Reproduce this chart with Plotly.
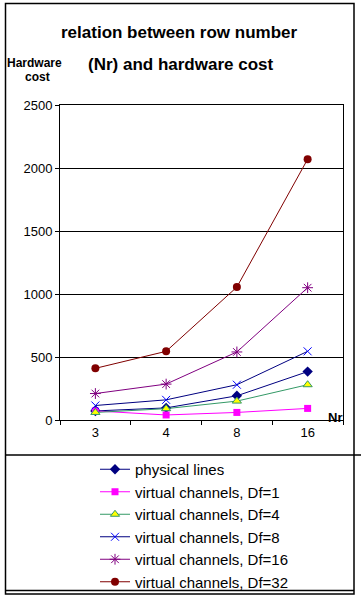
import plotly.graph_objects as go

categories = ["3", "4", "8", "16"]
physical_lines = [72, 96, 192, 384]
vc_df1 = [72, 40, 60, 92]
vc_df4 = [60, 90, 150, 280]
vc_df8 = [115, 160, 280, 545]
vc_df16 = [210, 285, 540, 1050]
vc_df32 = [410, 545, 1055, 2070]
y_ticks = [0, 500, 1000, 1500, 2000, 2500]

W, H = 363, 598
L, R, T, B = 60, 343, 105, 420


def px(x):
    return (x - L) / (R - L)


def py(y):
    return (B - y) / (B - T)


FONT = "Liberation Sans, Arial, sans-serif"

series = [
    ("physical lines", physical_lines, "#000080", dict(symbol="diamond", size=8, color="#000080")),
    ("virtual channels, Df=1", vc_df1, "#FF00FF", dict(symbol="square", size=7, color="#FF00FF")),
    ("virtual channels, Df=4", vc_df4, "#339966", dict(symbol="triangle-up", size=8, color="#FFFF00",
                                                        line=dict(color="#339966", width=1))),
    ("virtual channels, Df=8", vc_df8, "#000080", dict(symbol="x-thin-open", size=8, color="#0000FF",
                                                        line=dict(color="#0000FF", width=1))),
    ("virtual channels, Df=16", vc_df16, "#800080", dict(symbol="asterisk-open", size=9, color="#800080",
                                                          line=dict(color="#800080", width=1))),
    ("virtual channels, Df=32", vc_df32, "#800000", dict(symbol="circle", size=8, color="#800000")),
]

fig = go.Figure()
for name, vals, lc, mk in series:
    fig.add_trace(go.Scatter(x=categories, y=vals, name=name, mode="lines+markers",
                             line=dict(color=lc, width=1), marker=mk))

shapes = [
    dict(type="rect", xref="paper", yref="paper", x0=px(5.5), x1=px(354), y0=py(594), y1=py(3.5),
         line=dict(color="black", width=1.5)),
    dict(type="line", xref="paper", yref="paper", x0=px(5.5), x1=px(361), y0=py(455), y1=py(455),
         line=dict(color="black", width=1.5)),
    dict(type="line", xref="paper", yref="paper", x0=px(5.5), x1=px(354), y0=py(590.5), y1=py(590.5),
         line=dict(color="black", width=1.5)),
]

annotations = [
    dict(text="<b>relation between row number</b>", x=px(179), y=py(33), xref="paper", yref="paper",
         showarrow=False, font=dict(family=FONT, size=17, color="black"), xanchor="center", yanchor="middle"),
    dict(text="<b>(Nr) and hardware cost</b>", x=px(180), y=py(64), xref="paper", yref="paper",
         showarrow=False, font=dict(family=FONT, size=17, color="black"), xanchor="center", yanchor="middle"),
    dict(text="<b>Hardware</b>", x=px(5), y=py(63), xref="paper", yref="paper", showarrow=False,
         font=dict(family=FONT, size=12, color="black"), xanchor="left", yanchor="middle"),
    dict(text="<b>cost</b>", x=px(37), y=py(77), xref="paper", yref="paper", showarrow=False,
         font=dict(family=FONT, size=12, color="black"), xanchor="center", yanchor="middle"),
    dict(text="<b>Nr</b>", x=px(335), y=py(417), xref="paper", yref="paper", showarrow=False,
         font=dict(family=FONT, size=13, color="black"), xanchor="center", yanchor="middle"),
]

fig.update_layout(
    width=W, height=H,
    margin=dict(l=L, r=W - R, t=T, b=H - B, autoexpand=False),
    paper_bgcolor="white", plot_bgcolor="white",
    font=dict(family=FONT, size=13, color="black"),
    showlegend=True,
    legend=dict(x=px(95), y=py(453), xanchor="left", yanchor="top",
                font=dict(family=FONT, size=15, color="black"),
                bgcolor="rgba(0,0,0,0)", borderwidth=0, tracegroupgap=0),
    shapes=shapes,
    annotations=annotations,
    xaxis=dict(type="category", categoryorder="array", categoryarray=categories,
               tickson="boundaries", ticks="outside", ticklen=4, tickcolor="black",
               showline=True, linecolor="black", linewidth=1, mirror=True,
               showgrid=False, zeroline=False, tickfont=dict(size=13), range=[-0.5, 3.5]),
    yaxis=dict(range=[0, 2500], tickvals=y_ticks, ticks="outside", ticklen=4, tickcolor="black",
               showline=True, linecolor="black", linewidth=1, mirror=True,
               showgrid=True, gridcolor="black", gridwidth=1, zeroline=False,
               tickfont=dict(size=13)),
)

fig.write_html("out.html", config={"displayModeBar": False},
               post_script="document.body.style.margin='0';document.body.style.overflow='hidden';")
